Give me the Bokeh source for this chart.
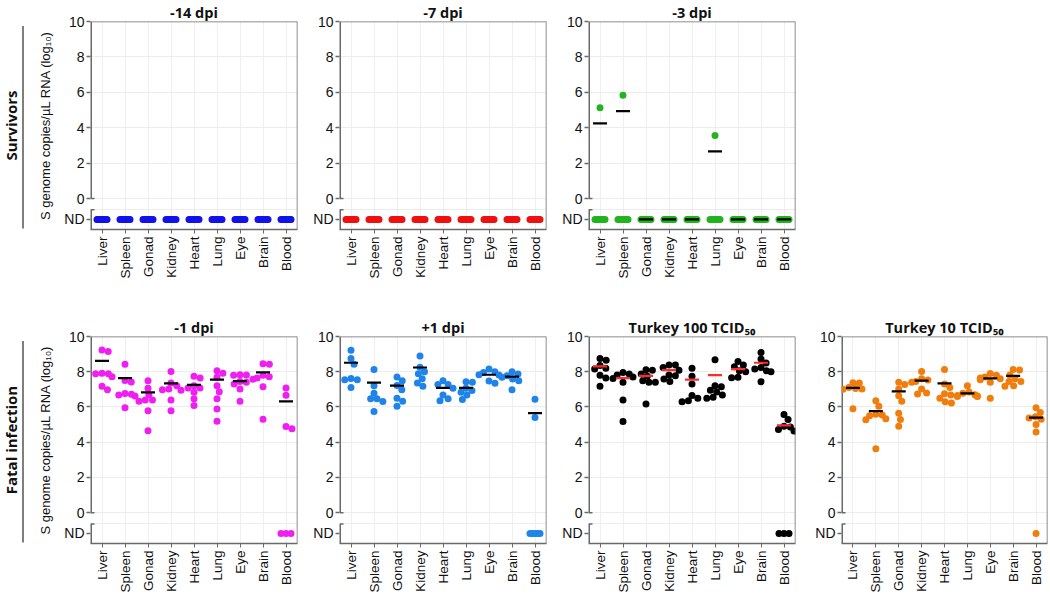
import math
import numpy as np
from bokeh.plotting import figure
from bokeh.layouts import row, column
from bokeh.models import Range1d, FixedTicker, Span, CustomJSTickFormatter
from bokeh.core.properties import value
from bokeh.embed import file_html
from bokeh.resources import INLINE

# ---------------- data ----------------
tissues = ["Liver", "Spleen", "Gonad", "Kidney", "Heart", "Lung", "Eye", "Brain", "Blood"]
ND = -1.18          # position of the "ND" (not detected) row on the y axis
Y_MIN, Y_MAX = -1.75, 10
BREAK = -0.64       # axis break
y_ticks = [0, 2, 4, 6, 8, 10]

# Survivors
d14_values = [[], [], [], [], [], [], [], [], []]
d14_nd = [8, 8, 8, 8, 8, 8, 8, 8, 8]
d14_means = [None, None, None, None, None, None, None, None, None]

d7_values = [[], [], [], [], [], [], [], [], []]
d7_nd = [8, 8, 8, 8, 8, 8, 8, 8, 8]
d7_means = [None, None, None, None, None, None, None, None, None]

d3_values = [[5.13], [5.84], [], [], [], [3.56], [], [], []]
d3_nd = [7, 7, 8, 8, 8, 7, 8, 8, 8]
d3_means = [4.25, 4.94, "ND", "ND", "ND", 2.66, "ND", "ND", "ND"]

# Fatal infection
m1_values = [
    [9.24, 9.15, 7.92, 7.89, 7.88, 7.72, 7.17, 6.98],
    [8.43, 7.5, 7.42, 6.76, 6.72, 6.68, 6.62, 5.95],
    [7.49, 7.06, 6.7, 6.4, 6.4, 6.32, 5.78, 4.65],
    [8.02, 7.36, 7.2, 7.02, 6.98, 6.95, 6.4, 5.78],
    [7.74, 7.64, 7.21, 7.08, 7.08, 6.83, 6.46, 6.08],
    [8.06, 7.92, 7.68, 7.21, 6.87, 6.46, 5.89, 5.19],
    [7.83, 7.82, 7.8, 7.45, 7.4, 7.3, 7.02, 6.32],
    [8.45, 8.42, 7.8, 7.72, 7.65, 7.58, 7.15, 5.3],
    [7.08, 6.66, 4.89, 4.76],
]
m1_nd = [0, 0, 0, 0, 0, 0, 0, 0, 3]
m1_means = [8.62, 7.64, 6.83, 7.34, 7.25, 7.55, 7.47, 7.96, 6.32]

p1_values = [
    [9.22, 8.75, 8.43, 7.62, 7.55, 7.55, 7.11],
    [8.13, 7.21, 6.78, 6.46, 6.46, 6.31, 5.74],
    [7.7, 7.49, 7.22, 6.98, 6.49, 6.32, 6.04],
    [8.9, 8.26, 8.0, 7.89, 7.6, 7.36, 7.17],
    [7.49, 7.27, 7.27, 7.06, 6.68, 6.46, 6.36],
    [7.43, 7.4, 7.06, 6.93, 6.83, 6.68, 6.42],
    [8.15, 8.0, 7.96, 7.83, 7.81, 7.47, 7.34],
    [8.0, 7.87, 7.77, 7.68, 7.59, 7.49, 6.98],
    [6.44, 5.4],
]
p1_nd = [0, 0, 0, 0, 0, 0, 0, 0, 5]
p1_means = [8.51, 7.38, 7.21, 8.24, 7.08, 7.08, 7.83, 7.72, 5.65]

t100_values = [
    [8.75, 8.65, 8.35, 8.2, 8.15, 7.8, 7.65, 7.17],
    [7.96, 7.87, 7.81, 7.7, 7.62, 7.4, 6.4, 5.18],
    [8.11, 8.09, 7.87, 7.75, 7.49, 7.4, 7.4, 6.17],
    [8.38, 8.38, 8.24, 8.09, 7.81, 7.77, 7.59, 7.45],
    [8.2, 7.75, 7.3, 6.65, 6.5, 6.35, 6.3],
    [8.68, 7.2, 7.15, 6.95, 6.85, 6.68, 6.55, 6.49],
    [8.58, 8.38, 8.28, 8.05, 8.0, 7.68, 7.66],
    [9.09, 8.72, 8.5, 8.24, 8.15, 8.05, 8.0, 7.43],
    [5.57, 5.29, 4.9, 4.86, 4.72, 4.63],
]
t100_nd = [0, 0, 0, 0, 0, 0, 0, 0, 3]
t100_means = [8.3, 7.64, 7.76, 8.09, 7.55, 7.81, 8.15, 8.51, 4.95]

t10_values = [
    [7.38, 7.36, 7.1, 7.05, 7.02, 7.0, 5.9],
    [6.36, 6.04, 5.58, 5.55, 5.5, 5.33, 5.28, 3.63],
    [7.4, 7.27, 7.02, 6.64, 6.32, 5.64, 5.29, 4.91],
    [8.02, 7.6, 7.53, 7.45, 7.4, 7.02, 6.79, 6.74],
    [8.12, 7.3, 7.1, 6.75, 6.68, 6.5, 6.3, 6.22],
    [7.2, 6.85, 6.78, 6.7, 6.65, 6.62, 6.6, 6.6],
    [7.9, 7.8, 7.7, 7.65, 7.6, 7.55, 7.4, 6.5],
    [8.12, 8.1, 7.81, 7.6, 7.45, 7.45, 7.2, 7.17],
    [5.95, 5.68, 5.45, 5.38, 5.3, 5.0, 4.58],
]
t10_nd = [0, 0, 0, 0, 0, 0, 0, 0, 1]
t10_means = [7.08, 5.76, 6.89, 7.49, 7.34, 6.77, 7.62, 7.76, 5.4]

# ---------------- layout constants ----------------
LABEL_W = 30
B_BOTTOM = 53
T_ROW1, H_ROW1 = 21, 208
T_ROW2, H_ROW2 = 54, 207
DOT = 7
AXIS_COLOR = "#6a6a6a"
TICK_FONT = "Liberation Sans"
TITLE_FONT = "Open Sans"


def swarm(vals, px_x, px_y, diam=6.4, limit=10.0):
    placed, offs = [], []
    for v in vals:
        y = v * px_y
        cands = [0.0]
        for (px, py) in placed:
            dy = abs(py - y)
            if dy < diam:
                dx = math.sqrt(diam ** 2 - dy ** 2)
                cands += [px - dx, px + dx]
        cands.sort(key=lambda c: (round(abs(c), 6), -c))
        chosen = cands[-1]
        for c in cands:
            if all((c - px) ** 2 + (y - py) ** 2 >= diam ** 2 - 1e-6 for px, py in placed):
                chosen = c
                break
        chosen = max(-limit, min(limit, chosen))
        placed.append((chosen, y))
        offs.append(chosen)
    return [o / px_x for o in offs]


def nd_offsets(n, px_x):
    if n <= 1:
        return [0.0] * n
    span = min(10.0, 5.0 * (n - 1))
    return [o / px_x for o in np.linspace(-span / 2, span / 2, n)]


def make_panel(title, values, nd_counts, means, color, mean_color,
               left_border, frame_w, right_border, top_border, frame_h, ylabel=False):
    px_x = frame_w / 9.0
    px_y = frame_h / (Y_MAX - Y_MIN)
    p = figure(width=left_border + frame_w + right_border, height=top_border + frame_h + B_BOTTOM,
               x_range=Range1d(-0.5, 8.5), y_range=Range1d(Y_MIN, Y_MAX),
               output_backend="svg", toolbar_location=None,
               min_border_left=left_border, min_border_right=right_border,
               min_border_top=top_border, min_border_bottom=B_BOTTOM)
    p.title.text = title
    p.title.align = "center"
    p.title.text_font = TITLE_FONT
    p.title.text_font_style = "bold"
    p.title.text_font_size = "14.5px"
    p.title.text_color = "#111111"
    p.title.standoff = 0
    p.outline_line_color = None
    p.background_fill_color = "white"

    # x axis
    p.xaxis.ticker = FixedTicker(ticks=list(range(9)))
    p.xaxis.major_label_overrides = {i: t for i, t in enumerate(tissues)}
    p.xaxis.major_label_orientation = math.pi / 2
    p.xaxis.major_label_text_font = TICK_FONT
    p.xaxis.major_label_text_font_size = "13.5px"
    p.xaxis.major_label_text_color = "#111111"
    p.xaxis.major_label_standoff = 3
    p.xaxis.axis_line_color = AXIS_COLOR
    p.xaxis.axis_line_width = 1.5
    p.xaxis.major_tick_line_color = AXIS_COLOR
    p.xaxis.major_tick_out = 4
    p.xaxis.major_tick_in = 0
    p.xaxis.minor_tick_line_color = None

    # y axis
    p.yaxis.ticker = FixedTicker(ticks=[ND] + y_ticks)
    p.yaxis.formatter = CustomJSTickFormatter(code="return tick < -0.5 ? 'ND' : tick.toFixed(0);")
    p.yaxis.major_label_text_font = TICK_FONT
    p.yaxis.major_label_text_font_size = "14px"
    p.yaxis.major_label_text_color = "#111111"
    p.yaxis.major_label_standoff = 2
    p.yaxis.axis_line_color = None
    p.yaxis.major_tick_line_color = AXIS_COLOR
    p.yaxis.major_tick_line_width = 1.5
    p.yaxis.major_tick_out = 4
    p.yaxis.major_tick_in = 0
    p.yaxis.minor_tick_line_color = None
    if ylabel:
        p.yaxis.axis_label = "S genome copies/µL RNA (log₁₀)"
        p.yaxis.axis_label_text_font = TICK_FONT
        p.yaxis.axis_label_text_font_style = "normal"
        p.yaxis.axis_label_text_font_size = "13px"
        p.yaxis.axis_label_text_color = "#111111"
        p.yaxis.axis_label_standoff = 8

    # grids
    p.ygrid.ticker = FixedTicker(ticks=[BREAK] + y_ticks)
    p.ygrid.grid_line_color = "#ececec"
    p.xgrid.grid_line_color = "#efefef"

    # frame: top and right edges, broken left axis
    p.add_layout(Span(location=Y_MAX, dimension="width", line_color=AXIS_COLOR, line_width=1.5))
    p.add_layout(Span(location=8.5, dimension="height", line_color=AXIS_COLOR, line_width=1.5))
    p.segment(x0=[-0.5, -0.5], y0=[0, Y_MIN], x1=[-0.5, -0.5], y1=[Y_MAX, BREAK],
              line_color=AXIS_COLOR, line_width=3)
    p.segment(x0=[-0.5, -0.5], y0=[0, BREAK], x1=[-0.5 + 4 / px_x, -0.5 + 4 / px_x], y1=[0, BREAK],
              line_color=AXIS_COLOR, line_width=1.5)

    # points
    xs, ys = [], []
    for i, vals in enumerate(values):
        order = sorted(vals, reverse=True)
        for v, o in zip(order, swarm(order, px_x, px_y)):
            xs.append(i + o)
            ys.append(v)
        for o in nd_offsets(nd_counts[i], px_x):
            xs.append(i + o)
            ys.append(ND)
    p.scatter(x=xs, y=ys, size=DOT, fill_color=color, line_color=None)

    # mean lines
    mx0, mx1, my = [], [], []
    half = 7.0 / px_x
    for i, m in enumerate(means):
        if m is None:
            continue
        yv = ND if m == "ND" else m
        mx0.append(i - half)
        mx1.append(i + half)
        my.append(yv)
    if my:
        p.segment(x0=mx0, y0=my, x1=mx1, y1=my, line_color=mean_color, line_width=2.2)
    return p


def make_label(text, top_border, frame_h):
    p = figure(width=LABEL_W, height=top_border + frame_h + B_BOTTOM,
               x_range=Range1d(0, LABEL_W), y_range=Range1d(Y_MIN, Y_MAX),
               output_backend="svg", toolbar_location=None,
               x_axis_location=None, y_axis_location=None,
               min_border_left=0, min_border_right=0,
               min_border_top=top_border, min_border_bottom=B_BOTTOM)
    p.outline_line_color = None
    p.grid.visible = False
    p.text(x=[10], y=[(Y_MIN + Y_MAX) / 2], text=[text], angle=math.pi / 2,
           text_align="center", text_baseline="middle",
           text_font=value(TITLE_FONT), text_font_style="bold", text_font_size="15px",
           text_color="#111111")
    p.segment(x0=[22.5], y0=[Y_MAX - 0.25], x1=[22.5], y1=[Y_MIN + 0.05],
              line_color="#555555", line_width=1.5)
    return p


BLUE = "#1212ee"
RED = "#f01010"
GREEN = "#22b41e"
MAGENTA = "#f01ef0"
SKY = "#1f84ea"
BLACK = "#000000"
ORANGE = "#f07d0c"

top = row(
    make_label("Survivors", T_ROW1, H_ROW1),
    make_panel("-14 dpi", d14_values, d14_nd, d14_means, BLUE, BLACK, 60, 207, 3, T_ROW1, H_ROW1, ylabel=True),
    make_panel("-7 dpi", d7_values, d7_nd, d7_means, RED, BLACK, 39, 207, 3, T_ROW1, H_ROW1),
    make_panel("-3 dpi", d3_values, d3_nd, d3_means, GREEN, BLACK, 39, 207, 3, T_ROW1, H_ROW1),
    spacing=0,
)
bottom = row(
    make_label("Fatal infection", T_ROW2, H_ROW2),
    make_panel("-1 dpi", m1_values, m1_nd, m1_means, MAGENTA, BLACK, 60, 207, 3, T_ROW2, H_ROW2, ylabel=True),
    make_panel("+1 dpi", p1_values, p1_nd, p1_means, SKY, BLACK, 39, 207, 3, T_ROW2, H_ROW2),
    make_panel("Turkey 100 TCID₅₀", t100_values, t100_nd, t100_means, BLACK, "#ff2a2a",
               39, 207, 3, T_ROW2, H_ROW2),
    make_panel("Turkey 10 TCID₅₀", t10_values, t10_nd, t10_means, ORANGE, BLACK,
               43, 206, 2, T_ROW2, H_ROW2),
    spacing=0,
)
layout = column(top, bottom, spacing=0)

open("out.html", "w").write(file_html(layout, INLINE))
